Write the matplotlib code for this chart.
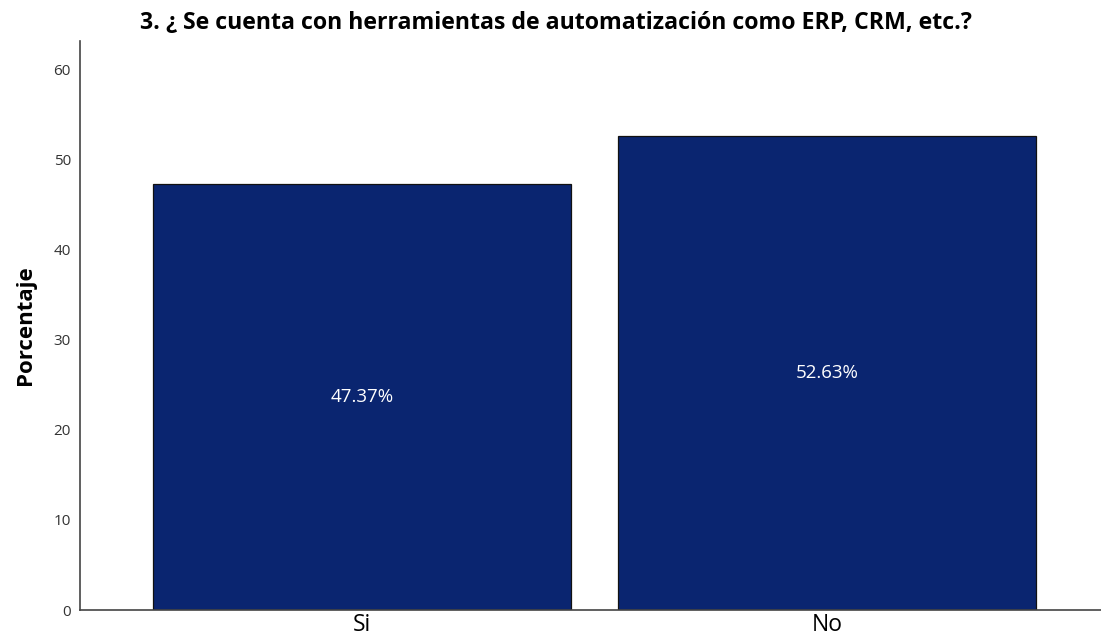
import matplotlib
matplotlib.use("Agg")
import matplotlib.pyplot as plt

categories = ["Si", "No"]
values = [47.37, 52.63]
labels = ["47.37%", "52.63%"]
yticks = [0, 10, 20, 30, 40, 50, 60]
title = "3. ¿ Se cuenta con herramientas de automatización como ERP, CRM, etc.?"

plt.rcParams['font.family'] = ['Open Sans', 'DejaVu Sans']

fig = plt.figure(figsize=(11.01, 6.41), dpi=100)
ax = fig.add_axes([80/1101, 31/641, 1 - 80/1101, (610-41)/641])

x = list(range(len(categories)))
bars = ax.bar(x, values, width=0.9, color="#0a2570", edgecolor="#111111", linewidth=0.9)
for xi, v, lab in zip(x, values, labels):
    ax.text(xi, v/2, lab, ha="center", va="center", color="white", fontsize=13.5)

ax.set_xlim(-0.607, 1.589)
ax.set_ylim(0, 63.2)
ax.set_yticks(yticks)
ax.set_xticks(x)
ax.set_xticklabels(categories, fontsize=16.5)
ax.tick_params(axis="both", length=0)
ax.tick_params(axis="y", labelsize=11, labelcolor="#333333", pad=6.5)
ax.tick_params(axis="x", pad=2)
for s in ["top", "right"]:
    ax.spines[s].set_visible(False)
for s in ["left", "bottom"]:
    ax.spines[s].set_color("#444444")
    ax.spines[s].set_linewidth(1.2)
ax.set_ylabel("Porcentaje", fontsize=16, fontweight="bold", labelpad=13)
fig.text(0.505, 1 - 23/641, title, ha="center", va="center", fontsize=16.7, fontweight="bold")

fig.savefig("out.png", dpi=100)
